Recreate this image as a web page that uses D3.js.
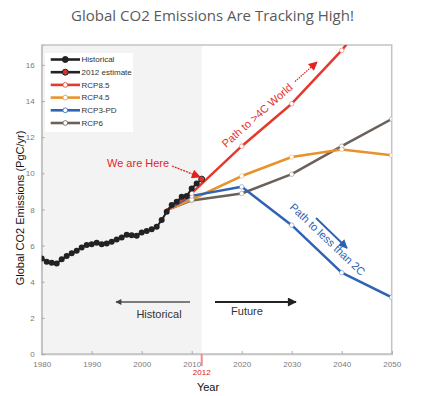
<!DOCTYPE html>
<html><head><meta charset="utf-8">
<script src="https://cdn.jsdelivr.net/npm/d3@7"></script>
<style>
html,body{margin:0;padding:0;background:#fff;}
svg{display:block;}
text{font-family:"Liberation Sans",Arial,sans-serif;}
</style></head>
<body>
<svg id="chart" width="425" height="396"></svg>
<script>
const titleText = "Global CO2 Emissions Are Tracking High!";
const histYears = d3.range(1980, 2012);
const histValues = [5.29,5.10,5.05,5.01,5.24,5.42,5.57,5.71,5.90,6.03,6.08,6.16,6.08,6.12,6.21,6.34,6.45,6.60,6.57,6.55,6.73,6.80,6.90,7.04,7.41,7.87,8.24,8.42,8.70,8.74,9.16,9.44];
const estYear = 2012;
const estValue = 9.68;
const rcpYears = [2005, 2010, 2020, 2030, 2040, 2050];
const rcp85 = [7.97, 8.90, 11.50, 13.85, 16.80, 20.30];
const rcp45 = [7.97, 8.55, 9.85, 10.90, 11.32, 11.00];
const rcp3pd = [7.97, 8.75, 9.25, 7.13, 4.50, 3.14];
const rcp6 = [7.97, 8.50, 8.88, 9.95, 11.50, 13.00];
const rcpNames = ["RCP8.5", "RCP4.5", "RCP3-PD", "RCP6"];
const rcpColors = ["#e53a2b", "#e8922c", "#2f64b4", "#6b615a"];
const legendNames = ["Historical", "2012 estimate", "RCP8.5", "RCP4.5", "RCP3-PD", "RCP6"];
const xTicks = [1980, 1990, 2000, 2010, 2020, 2030, 2040, 2050];
const yTicks = [0, 2, 4, 6, 8, 10, 12, 14, 16];

const svg = d3.select("#chart");
const x = d3.scaleLinear().domain([1980, 2050]).range([41.7, 391.7]);
const y = d3.scaleLinear().domain([0, 17.1]).range([354, 45]);

// title
svg.append("text").attr("x", 212.5).attr("y", 21).attr("text-anchor", "middle")
  .style("font-family", "'Open Sans', sans-serif").style("font-size", "15px")
  .attr("fill", "#5a5a5a").text(titleText);

const defs = svg.append("defs");
defs.append("clipPath").attr("id", "plotclip").append("rect")
  .attr("x", x(1980)).attr("y", y(17.1)).attr("width", x(2050) - x(1980)).attr("height", y(0) - y(17.1));
function arrowMarker(id, color, w, h) {
  defs.append("marker").attr("id", id).attr("viewBox", "0 0 10 10").attr("refX", 9).attr("refY", 5)
    .attr("markerWidth", w).attr("markerHeight", h).attr("orient", "auto").attr("markerUnits", "userSpaceOnUse")
    .append("path").attr("d", "M0,0 L10,5 L0,10 z").attr("fill", color);
}
arrowMarker("arRed", "#e41f1f", 10, 9);
arrowMarker("arBlue", "#2f5fb0", 10, 9);
arrowMarker("arGray", "#444", 7, 6);
arrowMarker("arBlack", "#222", 11, 9);

// shaded historical region
svg.append("rect").attr("x", x(1980)).attr("y", y(17.1)).attr("width", x(2012) - x(1980))
  .attr("height", y(0) - y(17.1)).attr("fill", "#f3f3f3");

// frame
svg.append("rect").attr("x", x(1980)).attr("y", y(17.1)).attr("width", x(2050) - x(1980))
  .attr("height", y(0) - y(17.1)).attr("fill", "none").attr("stroke", "#c4c4c4").attr("stroke-width", 1.5);

// axes
const xAxis = svg.append("g").attr("transform", `translate(0,${y(0)})`)
  .call(d3.axisBottom(x).tickValues(xTicks).tickFormat(d3.format("d")).tickSize(-3).tickPadding(7));
const yAxis = svg.append("g").attr("transform", `translate(${x(1980)},0)`)
  .call(d3.axisLeft(y).tickValues(yTicks).tickSize(-3).tickPadding(7));
[xAxis, yAxis].forEach(g => {
  g.select(".domain").attr("stroke", "#c4c4c4").attr("stroke-width", 1.5);
  g.selectAll(".tick line").attr("stroke", "#aaa");
  g.selectAll(".tick text").attr("fill", "#7a7a7a").style("font-size", "8px")
    .style("font-family", "'Liberation Sans',Arial,sans-serif");
});

// 2012 marker on axis
svg.append("line").attr("x1", x(2012)).attr("x2", x(2012)).attr("y1", y(0)).attr("y2", y(0) + 12)
  .attr("stroke", "#f58a8a").attr("stroke-width", 2);
svg.append("text").attr("x", x(2012)).attr("y", 375).attr("text-anchor", "middle")
  .style("font-size", "8px").attr("fill", "#e01010").text("2012");

// axis titles
svg.append("text").attr("x", 208).attr("y", 391).attr("text-anchor", "middle")
  .style("font-size", "11px").attr("fill", "#111").text("Year");
svg.append("text").attr("transform", "translate(24,208) rotate(-90)").attr("text-anchor", "middle")
  .style("font-size", "11px").attr("fill", "#111").text("Global CO2 Emissions (PgC/yr)");

// RCP lines
const plot = svg.append("g").attr("clip-path", "url(#plotclip)");
const rcpSeries = [rcp85, rcp45, rcp3pd, rcp6];
const line = d3.line().x(d => x(d[0])).y(d => y(d[1]));
[3, 1, 2, 0].forEach(i => {
  const pts = rcpYears.map((yr, j) => [yr, rcpSeries[i][j]]);
  plot.append("path").datum(pts).attr("d", line).attr("fill", "none")
    .attr("stroke", rcpColors[i]).attr("stroke-width", 2.5).attr("stroke-linejoin", "round");
  plot.selectAll(null).data(pts.slice(1)).enter().append("circle")
    .attr("cx", d => x(d[0])).attr("cy", d => y(d[1])).attr("r", 2.3)
    .attr("fill", "#fff").attr("stroke", rcpColors[i]).attr("stroke-opacity", 0.5).attr("stroke-width", 0.8);
});

// historical
const histPts = histYears.map((yr, i) => [yr, histValues[i]]);
const allPts = histPts.concat([[estYear, estValue]]);
plot.append("path").datum(allPts).attr("d", line).attr("fill", "none")
  .attr("stroke", "#222").attr("stroke-width", 2);
plot.selectAll(null).data(histPts).enter().append("circle")
  .attr("cx", d => x(d[0])).attr("cy", d => y(d[1])).attr("r", 3).attr("fill", "#222");
plot.append("circle").attr("cx", x(estYear)).attr("cy", y(estValue)).attr("r", 3)
  .attr("fill", "#d8322c").attr("stroke", "#333").attr("stroke-width", 1);

// legend
const lg = svg.append("g");
lg.append("rect").attr("x", 45).attr("y", 53).attr("width", 88).attr("height", 79).attr("fill", "#fff");
legendNames.forEach((name, i) => {
  const ly = 59.5 + i * 12.7;
  const col = i < 2 ? "#222" : rcpColors[i - 2];
  lg.append("line").attr("x1", 50.7).attr("x2", 80).attr("y1", ly).attr("y2", ly)
    .attr("stroke", col).attr("stroke-width", 2.6);
  lg.append("circle").attr("cx", 65.3).attr("cy", ly).attr("r", i < 2 ? 3 : 2.4)
    .attr("fill", i === 0 ? "#222" : i === 1 ? "#d8322c" : "#fff")
    .attr("stroke", i < 2 ? "#222" : col).attr("stroke-width", i < 2 ? 1 : 0.8);
  lg.append("text").attr("x", 81.5).attr("y", ly).attr("dy", "0.35em")
    .style("font-size", "8px").attr("fill", "#333").text(name);
});

// annotations
svg.append("text").attr("x", 107).attr("y", 167).style("font-size", "11px").attr("fill", "#e41f1f").text("We are Here");
svg.append("line").attr("x1", 172).attr("y1", 166).attr("x2", 200).attr("y2", 177)
  .attr("stroke", "#e41f1f").attr("stroke-width", 1.3).attr("stroke-dasharray", "2,1").attr("marker-end", "url(#arRed)");

svg.append("text").attr("transform", "translate(226,148) rotate(-41.5)")
  .style("font-size", "11px").attr("fill", "#e5332a").text("Path to >4C World");
svg.append("line").attr("x1", 295).attr("y1", 81.5).attr("x2", 317).attr("y2", 62)
  .attr("stroke", "#e41f1f").attr("stroke-width", 1.2).attr("stroke-dasharray", "1.5,1").attr("marker-end", "url(#arRed)");

svg.append("text").attr("transform", "translate(289,208) rotate(43.5)")
  .style("font-size", "11px").attr("fill", "#2f5fb0").text("Path to less than 2C");
svg.append("line").attr("x1", 316).attr("y1", 218).attr("x2", 347).attr("y2", 248)
  .attr("stroke", "#2f5fb0").attr("stroke-width", 1.8).attr("marker-end", "url(#arBlue)");

// historical / future arrows
svg.append("line").attr("x1", 190).attr("y1", 302).attr("x2", 116).attr("y2", 302)
  .attr("stroke", "#555").attr("stroke-width", 1.4).attr("marker-end", "url(#arGray)");
svg.append("text").attr("x", 159).attr("y", 318).attr("text-anchor", "middle")
  .style("font-size", "11px").attr("fill", "#333").text("Historical");
svg.append("line").attr("x1", 215).attr("y1", 302).attr("x2", 296).attr("y2", 302)
  .attr("stroke", "#222").attr("stroke-width", 2).attr("marker-end", "url(#arBlack)");
svg.append("text").attr("x", 247).attr("y", 315).attr("text-anchor", "middle")
  .style("font-size", "11px").attr("fill", "#333").text("Future");
</script>
</body></html>
